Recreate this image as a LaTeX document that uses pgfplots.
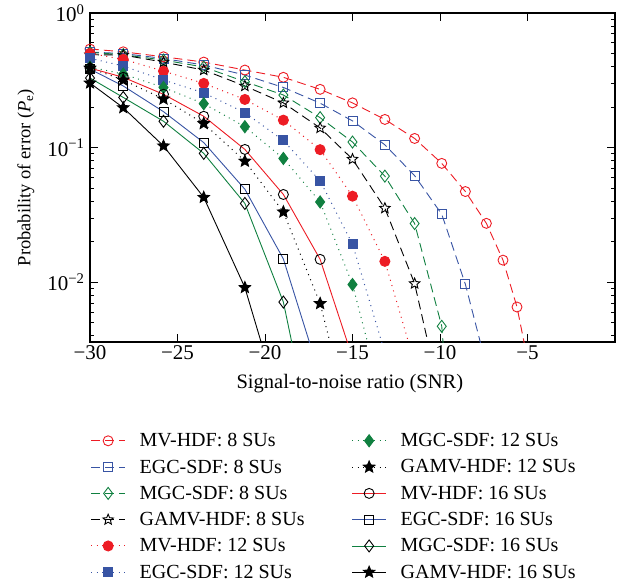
\documentclass[border=0pt]{standalone}
\usepackage{fontspec}
\setmainfont{Liberation Serif}
\usepackage{pgfplots}
\pgfplotsset{compat=1.18}

\definecolor{mvred}{RGB}{237,28,36}
\definecolor{egcblue}{RGB}{56,84,164}
\definecolor{mgcgreen}{RGB}{16,128,64}

% five-pointed star, open and filled
\pgfdeclareplotmark{ostar}{%
  \pgfpathmoveto{\pgfqpointpolar{90}{\pgfplotmarksize}}%
  \pgfpathlineto{\pgfqpointpolar{126}{0.45\pgfplotmarksize}}%
  \pgfpathlineto{\pgfqpointpolar{162}{\pgfplotmarksize}}%
  \pgfpathlineto{\pgfqpointpolar{198}{0.45\pgfplotmarksize}}%
  \pgfpathlineto{\pgfqpointpolar{234}{\pgfplotmarksize}}%
  \pgfpathlineto{\pgfqpointpolar{270}{0.45\pgfplotmarksize}}%
  \pgfpathlineto{\pgfqpointpolar{306}{\pgfplotmarksize}}%
  \pgfpathlineto{\pgfqpointpolar{342}{0.45\pgfplotmarksize}}%
  \pgfpathlineto{\pgfqpointpolar{18}{\pgfplotmarksize}}%
  \pgfpathlineto{\pgfqpointpolar{54}{0.45\pgfplotmarksize}}%
  \pgfpathclose
  \pgfusepathqstroke
}
\pgfdeclareplotmark{fstar}{%
  \pgfpathmoveto{\pgfqpointpolar{90}{\pgfplotmarksize}}%
  \pgfpathlineto{\pgfqpointpolar{126}{0.45\pgfplotmarksize}}%
  \pgfpathlineto{\pgfqpointpolar{162}{\pgfplotmarksize}}%
  \pgfpathlineto{\pgfqpointpolar{198}{0.45\pgfplotmarksize}}%
  \pgfpathlineto{\pgfqpointpolar{234}{\pgfplotmarksize}}%
  \pgfpathlineto{\pgfqpointpolar{270}{0.45\pgfplotmarksize}}%
  \pgfpathlineto{\pgfqpointpolar{306}{\pgfplotmarksize}}%
  \pgfpathlineto{\pgfqpointpolar{342}{0.45\pgfplotmarksize}}%
  \pgfpathlineto{\pgfqpointpolar{18}{\pgfplotmarksize}}%
  \pgfpathlineto{\pgfqpointpolar{54}{0.45\pgfplotmarksize}}%
  \pgfpathclose
  \pgfusepathqfillstroke
}

\pgfplotsset{
  d8/.style={line width=0.9pt, dash pattern=on 9pt off 5pt},
  d12/.style={line width=1pt, dash pattern=on 1pt off 4.5pt},
  d16/.style={line width=0.9pt, solid},
}

\begin{document}
\begin{tikzpicture}
  % page frame: same margins round the axis as the reference
  \path (-90pt,-242pt) rectangle (533pt,342pt);
  \begin{axis}[
    at={(0pt,0pt)}, anchor=south west,
    scale only axis,
    width=525pt,
    height=329pt,
    ymode=log,
    xmin=-30, xmax=0,
    ymin=0.0036, ymax=1,
    xtick={-30,-25,-20,-15,-10,-5},
    xticklabels={−30,−25,−20,−15,−10,−5},
    ytick={0.01,0.1,1},
    yticklabels={10\textsuperscript{−2},10\textsuperscript{−1},10\textsuperscript{0}},
    minor ytick={0.004,0.005,0.006,0.007,0.008,0.009,
      0.02,0.03,0.04,0.05,0.06,0.07,0.08,0.09,
      0.2,0.3,0.4,0.5,0.6,0.7,0.8,0.9},
    major tick length=8pt,
    minor tick length=4pt,
    tick style={black, line width=0.9pt},
    axis line style={line width=1.2pt},
    tick label style={font=\fontsize{21}{25}\selectfont},
    yticklabel style={xshift=-2pt},
    xlabel={Signal-to-noise ratio (SNR)},
    xlabel style={font=\fontsize{20.5}{24}\selectfont,
      at={(axis description cs:0.495,-0.125)}, anchor=center},
    ylabel={Probability of error (\textit{P}\textsubscript{e})},
    ylabel style={font=\fontsize{18.5}{22}\selectfont,
      at={(axis description cs:-0.122,0.5)}, anchor=center},
    legend image code/.code={%
      \draw[mark repeat=2,mark phase=2,#1]
        plot coordinates {(0cm,0cm) (0.6cm,0cm) (1.2cm,0cm)};},
    legend cell align=left,
    legend columns=6,
    transpose legend,
    legend style={draw=none, fill=none, at={(-0.005,-0.265)}, anchor=north west,
      font=\fontsize{20}{24}\selectfont, row sep=7.5pt,
      /tikz/every odd column/.append style={column sep=12pt},
      /tikz/every even column/.append style={column sep=45pt}},
    ]

    % 8 SUs, dashed, open marks
    \addplot[d8, mvred, mark=o, mark size=5pt, mark options={solid}] coordinates {
      (-30,0.540) (-28.1,0.515) (-25.8,0.473) (-23.5,0.432) (-21.15,0.377)
      (-18.95,0.333) (-16.85,0.271) (-15.0,0.215) (-13.15,0.162) (-11.45,0.117)
      (-9.9,0.0764) (-8.55,0.0472) (-7.35,0.0274) (-6.4,0.0146) (-5.6,0.00655)
      (-4.9,0.0023)
    };
    \addlegendentry{MV-HDF: 8 SUs}
    \addplot[d8, egcblue, mark=square, mark size=4.5pt, mark options={solid}] coordinates {
      (-30,0.513) (-28.1,0.500) (-25.8,0.459) (-23.5,0.411) (-21.15,0.346)
      (-18.95,0.280) (-16.85,0.214) (-15.0,0.158) (-13.15,0.105) (-11.45,0.0619)
      (-9.9,0.0320) (-8.55,0.00966) (-7.35,0.0024)
    };
    \addlegendentry{EGC-SDF: 8 SUs}
    \addplot[d8, mgcgreen, mark=diamond, mark size=6pt, mark options={solid}] coordinates {
      (-30,0.510) (-28.1,0.490) (-25.8,0.447) (-23.5,0.397) (-21.15,0.309)
      (-18.95,0.246) (-16.85,0.167) (-15.0,0.110) (-13.15,0.0614) (-11.45,0.0273)
      (-9.9,0.00471) (-8.55,0.00003)
    };
    \addlegendentry{MGC-SDF: 8 SUs}
    \addplot[d8, black, mark=ostar, mark size=5.5pt, mark options={solid}] coordinates {
      (-30,0.490) (-28.1,0.487) (-25.8,0.432) (-23.5,0.377) (-21.15,0.287)
      (-18.95,0.215) (-16.85,0.140) (-15.0,0.0821) (-13.15,0.0355) (-11.45,0.00978)
      (-9.9,0.00126)
    };
    \addlegendentry{GAMV-HDF: 8 SUs}

    % 12 SUs, dotted, filled marks
    \addplot[d12, mvred, mark=*, mark size=5pt, mark options={solid, fill=mvred}] coordinates {
      (-30,0.501) (-28.1,0.453) (-25.8,0.370) (-23.5,0.300) (-21.15,0.228)
      (-18.95,0.160) (-16.85,0.0966) (-15.0,0.0436) (-13.15,0.0143) (-11.45,0.00251)
    };
    \addlegendentry{MV-HDF: 12 SUs}
    \addplot[d12, egcblue, mark=square*, mark size=4.5pt, mark options={solid, fill=egcblue}] coordinates {
      (-30,0.461) (-28.1,0.404) (-25.8,0.318) (-23.5,0.255) (-21.15,0.182)
      (-18.95,0.113) (-16.85,0.0566) (-15.0,0.0192) (-13.15,0.0030)
    };
    \addlegendentry{EGC-SDF: 12 SUs}
    \addplot[d12, mgcgreen, mark=diamond*, mark size=6pt, mark options={solid, fill=mgcgreen}] coordinates {
      (-30,0.397) (-28.1,0.352) (-25.8,0.280) (-23.5,0.212) (-21.15,0.143)
      (-18.95,0.0831) (-16.85,0.0395) (-15.0,0.00962) (-13.15,0.00115)
    };
    \addlegendentry{MGC-SDF: 12 SUs}
    \addplot[d12, black, mark=fstar, mark size=6pt, mark options={solid, fill=black}] coordinates {
      (-30,0.390) (-28.1,0.318) (-25.8,0.230) (-23.5,0.151) (-21.15,0.0794)
      (-18.95,0.0333) (-16.85,0.00695) (-15.0,0.00079)
    };
    \addlegendentry{GAMV-HDF: 12 SUs}

    % 16 SUs, solid, black marks
    \addplot[d16, mvred, mark=o, mark size=5pt, mark options={solid, draw=black}] coordinates {
      (-30,0.390) (-28.1,0.333) (-25.8,0.249) (-23.5,0.171) (-21.15,0.0970)
      (-18.95,0.0449) (-16.85,0.0148) (-15.0,0.00275)
    };
    \addlegendentry{MV-HDF: 16 SUs}
    \addplot[d16, egcblue, mark=square, mark size=4.5pt, mark options={solid, draw=black}] coordinates {
      (-30,0.383) (-28.1,0.287) (-25.8,0.185) (-23.5,0.109) (-21.15,0.0491)
      (-18.95,0.0149) (-16.85,0.0020)
    };
    \addlegendentry{EGC-SDF: 16 SUs}
    \addplot[d16, mgcgreen, mark=diamond, mark size=6pt, mark options={solid, draw=black}] coordinates {
      (-30,0.329) (-28.1,0.236) (-25.8,0.157) (-23.5,0.0906) (-21.15,0.0385)
      (-18.95,0.00713) (-16.85,0.00035)
    };
    \addlegendentry{MGC-SDF: 16 SUs}
    \addplot[d16, black, mark=fstar, mark size=6pt, mark options={solid, fill=black}] coordinates {
      (-30,0.302) (-28.1,0.198) (-25.8,0.103) (-23.5,0.0427) (-21.15,0.00914)
      (-18.95,0.001)
    };
    \addlegendentry{GAMV-HDF: 16 SUs}
  \end{axis}
\end{tikzpicture}
\end{document}
